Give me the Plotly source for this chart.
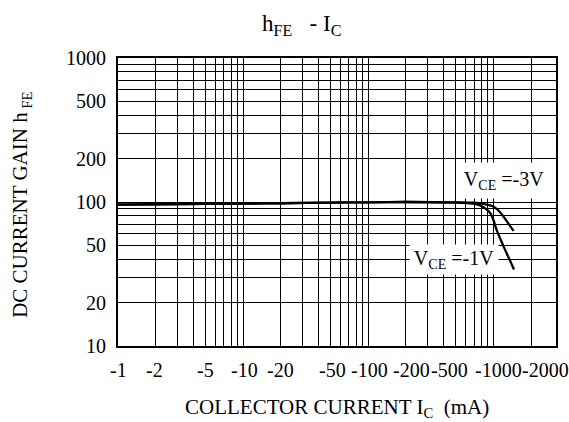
import math
import plotly.graph_objects as go

# Data
ic_3v = [1, 2, 5, 10, 20, 50, 100, 200, 500, 700, 800, 900, 1000, 1100, 1200, 1300, 1450]
hfe_3v = [96, 96.5, 97, 97.5, 98, 99, 99.5, 100, 99.5, 99, 97.5, 95.5, 93, 87, 79.5, 72, 63]

ic_1v = [1, 2, 5, 10, 20, 50, 100, 200, 500, 650, 750, 850, 940, 1000, 1060, 1150, 1240, 1350, 1460]
hfe_1v = [96, 96.5, 97, 97.5, 98, 99, 99.5, 100, 99, 98, 96, 91, 84, 75, 64, 54, 46.5, 39.5, 34]

x_tick_vals = [1, 2, 5, 10, 20, 50, 100, 200, 500, 1000, 2000]
x_tick_text = ["-1", "-2", "-5", "-10", "-20", "-50", "-100", "-200", "-500", "-1000", "-2000"]
# horizontal nudges (px) that keep the crowded labels apart, as in the reference
x_tick_shift = [0, -1, 0, 1, 0, 2, 1, 6, -6, 5, 14]
y_tick_vals = [10, 20, 50, 100, 200, 500, 1000]
y_tick_text = ["10", "20", "50", "100", "200", "500", "1000"]

x_grid = [m * d for d in [1, 10, 100, 1000] for m in range(1, 10) if m * d <= 2000]
y_grid = [m * d for d in [10, 100] for m in range(1, 10)] + [1000]

FONT = "Liberation Serif"
TICK_SIZE = 20

fig = go.Figure()
fig.add_trace(go.Scatter(x=ic_3v, y=hfe_3v, mode="lines",
                         line=dict(color="black", width=2.3, shape="spline", smoothing=0.6),
                         showlegend=False, hoverinfo="skip"))
fig.add_trace(go.Scatter(x=ic_1v, y=hfe_1v, mode="lines",
                         line=dict(color="black", width=2.3, shape="spline", smoothing=0.6),
                         showlegend=False, hoverinfo="skip"))

def centered(**kw):
    d = dict(showarrow=False, xanchor="center", yanchor="middle")
    d.update(kw)
    return d

annotations = [
    centered(text="h<sub>FE</sub>&nbsp;&nbsp; - I<sub>C</sub>", xref="paper", yref="paper",
             x=0.42, y=1.115, font=dict(family=FONT, size=23)),
    centered(text="COLLECTOR CURRENT I<sub>C</sub>&nbsp; (mA)", xref="paper", yref="paper",
             x=0.50, y=-0.215, font=dict(family=FONT, size=21)),
    centered(text="DC CURRENT GAIN h<sub> FE</sub>", xref="paper", yref="paper",
             x=-0.2215, y=0.49, textangle=-90, font=dict(family=FONT, size=21)),
    centered(text="V<sub>CE</sub> =-3V", xref="paper", yref="paper",
             x=0.882, y=0.576, bgcolor="white", width=92, height=33,
             font=dict(family=FONT, size=20)),
    centered(text="V<sub>CE</sub> =-1V", xref="paper", yref="paper",
             x=0.768, y=0.302, bgcolor="white", width=86, height=27,
             font=dict(family=FONT, size=20)),
]
for v, t, s in zip(x_tick_vals, x_tick_text, x_tick_shift):
    annotations.append(centered(text=t, x=math.log10(v), xref="x", y=-0.0833, yref="paper",
                                xshift=s, font=dict(family=FONT, size=TICK_SIZE)))

fig.update_layout(
    width=569, height=422,
    margin=dict(l=118, r=13, t=58, b=76),
    paper_bgcolor="white", plot_bgcolor="white",
    font=dict(family=FONT, color="black", size=TICK_SIZE),
    hovermode=False,
    xaxis=dict(
        type="log", range=[0, 3.5], automargin=False,
        tickvals=x_tick_vals, showticklabels=False,
        showgrid=True, gridcolor="black", gridwidth=1,
        minor=dict(tickvals=x_grid, showgrid=True, gridcolor="black", gridwidth=1, ticks=""),
        showline=True, mirror=True, linecolor="black", linewidth=2,
        ticks="", zeroline=False,
    ),
    yaxis=dict(
        type="log", range=[1, 3], automargin=False,
        tickvals=y_tick_vals, ticktext=y_tick_text,
        showgrid=True, gridcolor="black", gridwidth=1,
        minor=dict(tickvals=y_grid, showgrid=True, gridcolor="black", gridwidth=1, ticks=""),
        showline=True, mirror=True, linecolor="black", linewidth=2,
        ticks="", ticklabelstandoff=6, zeroline=False, tickangle=0,
        tickfont=dict(family=FONT, size=TICK_SIZE),
    ),
    annotations=annotations,
)

fig.write_html("out.html",
               config={"displayModeBar": False},
               post_script="document.body.style.margin='0';document.body.style.overflow='hidden';")
